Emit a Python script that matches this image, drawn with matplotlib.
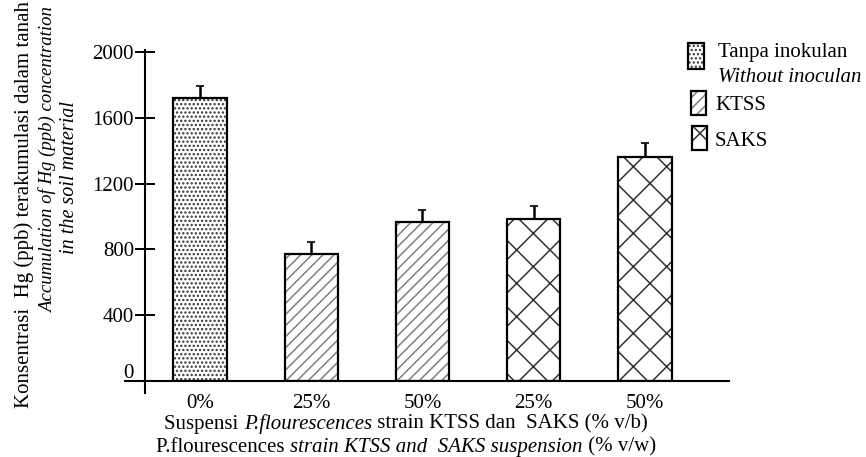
import matplotlib
matplotlib.use('Agg')
import matplotlib.pyplot as plt
from matplotlib.offsetbox import TextArea, HPacker, AnnotationBbox
from matplotlib.patches import Rectangle
from matplotlib.transforms import ScaledTranslation
import numpy as np

# ---- data ----
categories = ['0%', '25%', '50%', '25%', '50%']
groups = ['Tanpa inokulan', 'KTSS', 'KTSS', 'SAKS', 'SAKS']
values = [1720, 775, 965, 985, 1360]
errors = [73, 67, 73, 79, 85]
yticks = [0, 400, 800, 1200, 1600, 2000]

plt.rcParams['font.family'] = ['Liberation Serif', 'DejaVu Serif']
plt.rcParams['font.size'] = 15
plt.rcParams['hatch.linewidth'] = 1.1

W, H = 866, 457
fig = plt.figure(figsize=(W / 100, H / 100), dpi=100)
ax = fig.add_axes([145 / W, 1 - 381 / H, (729 - 145) / W, (381 - 52) / H])

hatches = {'Tanpa inokulan': '....', 'KTSS': '///', 'SAKS': 'x'}
hatch_colors = {'Tanpa inokulan': '#333333', 'KTSS': '#808080', 'SAKS': '#333333'}
x = np.arange(len(values))
bw = 0.48
for xi, v, g in zip(x, values, groups):
    ax.bar(xi, v, width=bw, color='white', edgecolor=hatch_colors[g],
           hatch=hatches[g], linewidth=0, zorder=2)
ax.bar(x, values, width=bw, fill=False, edgecolor='black', linewidth=1.6, zorder=3)
ax.errorbar(x, values, yerr=[np.zeros(len(values)), errors], fmt='none',
            ecolor='black', elinewidth=1.8, capsize=3, capthick=1.2, zorder=4)

ax.set_xlim(-0.494, 4.755)
ax.set_ylim(0, 2000)
ax.set_yticks(yticks)
ax.set_yticklabels([str(t) for t in yticks])
ax.set_xticks(x)
ax.set_xticklabels(categories)

for s in ax.spines.values():
    s.set_visible(False)
# axis lines (extend past the origin as in the reference)
ax.plot([0, 0], [-0.035, 1.005], transform=ax.transAxes, color='black', lw=1.5, clip_on=False)
ax.plot([-20 / 584, 1], [0, 0], transform=ax.transAxes, color='black', lw=1.5, clip_on=False)

ax.tick_params(axis='y', direction='inout', length=14, width=1.4, pad=1, labelsize=15)
ax.tick_params(axis='x', length=0, pad=9, labelsize=15)
# raise the "0" label slightly like in the reference
lab0 = ax.get_yticklabels()[0]
lab0.set_transform(lab0.get_transform() + ScaledTranslation(0, 10 / 100, fig.dpi_scale_trans))

# ---- x label (mixed styles) ----
def mixed_line(parts, xy_px):
    boxes = [TextArea(t, textprops=dict(fontsize=15, fontstyle=st, family='Liberation Serif'))
             for t, st in parts]
    pk = HPacker(children=boxes, align='baseline', pad=0, sep=0)
    ab = AnnotationBbox(pk, (xy_px[0] / W, 1 - xy_px[1] / H), xycoords='figure fraction',
                        box_alignment=(0.5, 0.5), frameon=False, pad=0)
    fig.add_artist(ab)

mixed_line([('Suspensi ', 'normal'), ('P.flourescences', 'italic'),
            (' strain KTSS dan  SAKS (% v/b)', 'normal')], (406, 424))
mixed_line([('P.flourescences ', 'normal'), ('strain KTSS and  SAKS suspension', 'italic'),
            (' (% v/w)', 'normal')], (406, 447))

# ---- y label ----
fig.text(24 / W, 1 - 205 / H, 'Konsentrasi  Hg (ppb) terakumulasi dalam tanah',
         rotation=90, ha='center', va='center', fontsize=15)
fig.text(48 / W, 1 - 160 / H, 'Accumulation of Hg (ppb) concentration',
         rotation=90, ha='center', va='center', fontsize=13.5, fontstyle='italic')
fig.text(70 / W, 1 - 178 / H, 'in the soil material',
         rotation=90, ha='center', va='center', fontsize=14.5, fontstyle='italic')

# ---- legend ----
leg = [('Tanpa inokulan', (688, 43, 16, 26), 718, 52),
       ('KTSS', (691, 91, 15, 24), 715, 106),
       ('SAKS', (692, 126, 15, 24), 715, 142)]
for name, (px, py, pw, ph), tx, ty in leg:
    fig.add_artist(Rectangle((px / W, 1 - (py + ph) / H), pw / W, ph / H,
                             transform=fig.transFigure, facecolor='white',
                             edgecolor=hatch_colors[name], hatch=hatches[name], lw=0))
    fig.add_artist(Rectangle((px / W, 1 - (py + ph) / H), pw / W, ph / H,
                             transform=fig.transFigure, fill=False,
                             edgecolor='black', lw=1.6))
    fig.text(tx / W, 1 - ty / H, name, ha='left', va='center', fontsize=15)
fig.text(718 / W, 1 - 77 / H, 'Without inoculan', ha='left', va='center',
         fontsize=15, fontstyle='italic')

fig.savefig('out.png', dpi=100)
